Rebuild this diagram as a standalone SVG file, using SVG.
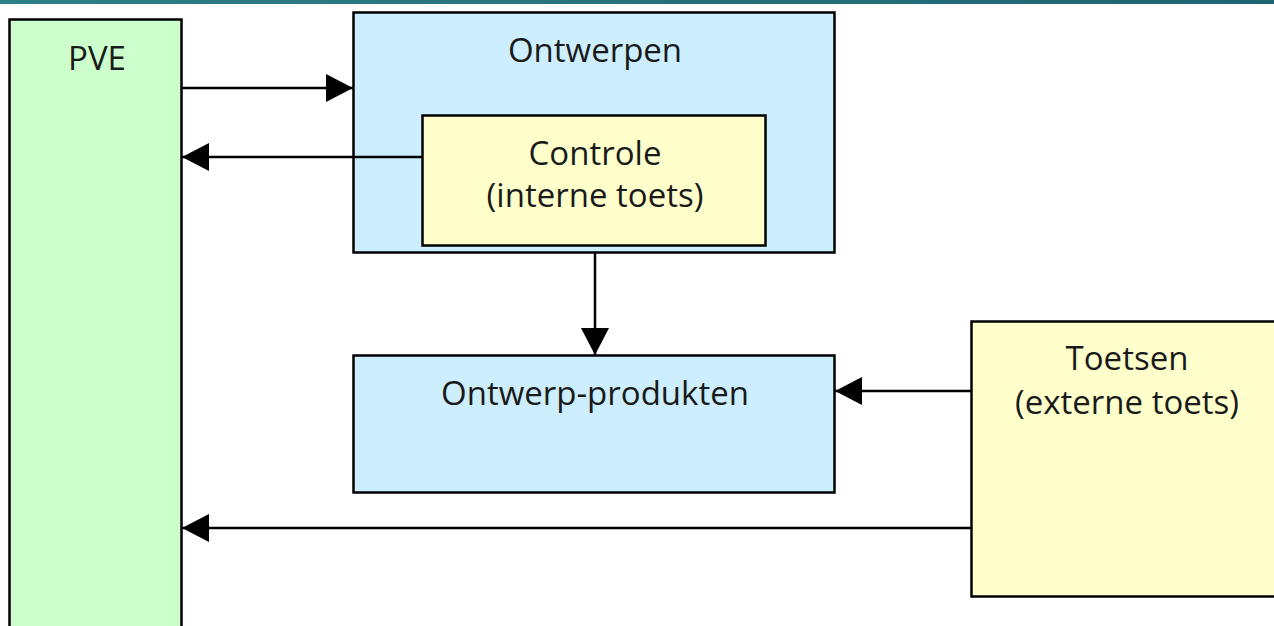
<svg xmlns="http://www.w3.org/2000/svg" width="1274" height="626" viewBox="0 0 1274 626">
<style>
.box{stroke:#000;stroke-width:2.5}
.green{fill:#ccffcc}
.blue{fill:#cceeff}
.yellow{fill:#ffffcc}
text{font-family:"Open Sans","DejaVu Sans",sans-serif;font-size:33px;fill:#1a1a1a;text-anchor:middle}
.conn{stroke:#000;stroke-width:2.5;fill:none;marker-end:url(#arr)}
</style>
<defs>
<linearGradient id="bar" x1="0" x2="1" y1="0" y2="0">
<stop offset="0" stop-color="#2d7f88"/>
<stop offset="1" stop-color="#1f6472"/>
</linearGradient>
<marker id="arr" viewBox="0 0 27 28" refX="27" refY="14" markerWidth="27" markerHeight="28" markerUnits="userSpaceOnUse" orient="auto">
<path d="M0,0 L27,14 L0,28 Z" fill="#000"/>
</marker>
</defs>
<rect x="0" y="0" width="1274" height="626" fill="#fff"/>
<rect x="0" y="0" width="1274" height="4" fill="url(#bar)"/>
<g id="pve">
<rect class="box green" x="9.5" y="19.5" width="172" height="620"/>
<text x="97" y="70">PVE</text>
</g>
<g id="ontwerpen">
<rect class="box blue" x="353.5" y="12.5" width="481" height="240"/>
<text x="595" y="62">Ontwerpen</text>
</g>
<g id="controle">
<rect class="box yellow" x="422.5" y="115.5" width="343" height="130"/>
<text x="595" y="165">Controle</text>
<text x="595" y="207">(interne toets)</text>
</g>
<g id="ontwerp-produkten">
<rect class="box blue" x="353.5" y="355.5" width="481" height="137"/>
<text x="595" y="405">Ontwerp-produkten</text>
</g>
<g id="toetsen">
<rect class="box yellow" x="971.5" y="321.5" width="320" height="275"/>
<text x="1127" y="370">Toetsen</text>
<text x="1127" y="414">(externe toets)</text>
</g>
<g id="connectors">
<line class="conn" x1="182" y1="88" x2="353" y2="88"/>
<line class="conn" x1="422" y1="157" x2="182" y2="157"/>
<line class="conn" x1="595" y1="253" x2="595" y2="355"/>
<line class="conn" x1="971" y1="391" x2="835" y2="391"/>
<line class="conn" x1="971" y1="528" x2="182" y2="528"/>
</g>
</svg>
